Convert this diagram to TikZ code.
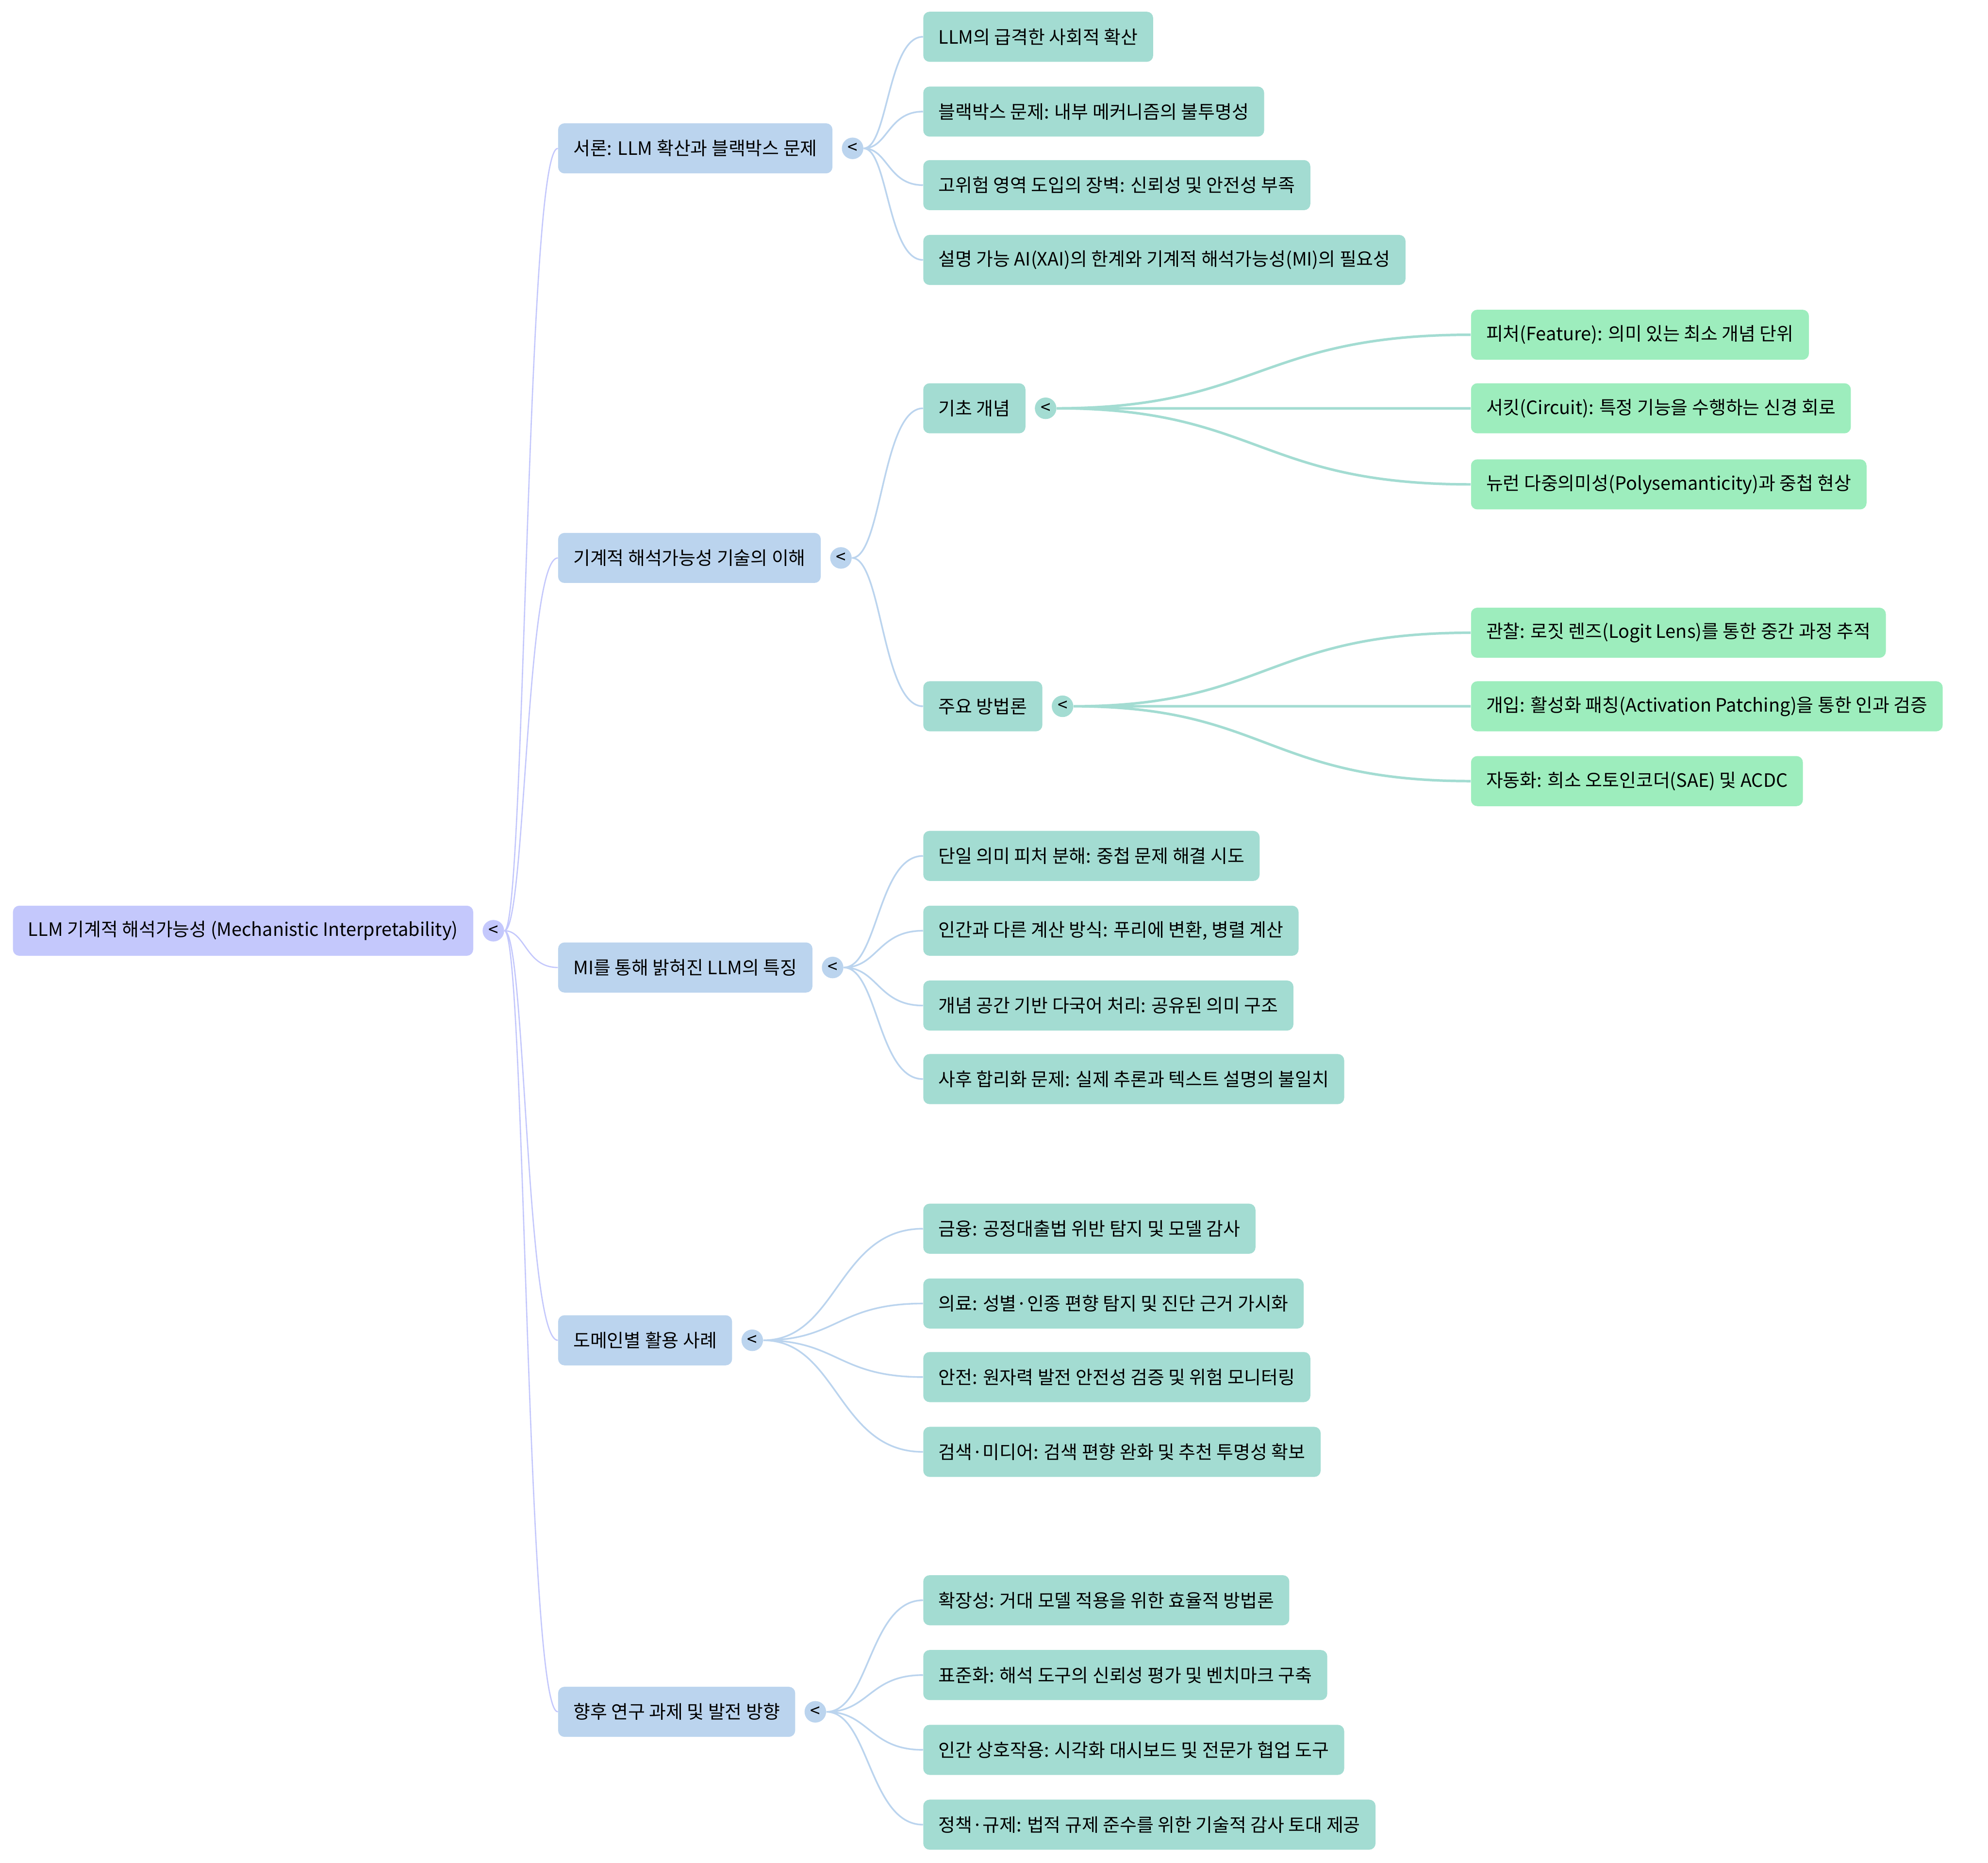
\documentclass[tikz,border=0pt]{standalone}
\usepackage{fontspec}
\setmainfont{Noto Sans CJK KR}
\usetikzlibrary{positioning,calc,backgrounds}
\definecolor{rootfill}{RGB}{196,200,252}
\definecolor{secfill}{RGB}{187,212,238}
\definecolor{subfill}{RGB}{163,220,210}
\definecolor{leaffill}{RGB}{157,237,189}
\tikzset{
  mm/.style       = {rounded corners=5pt, anchor=west, minimum height=39.5pt, inner xsep=12pt, inner ysep=3pt, font=\fontsize{14.5pt}{17.5pt}\selectfont},
  rootbox/.style  = {mm, fill=rootfill},
  secbox/.style   = {mm, fill=secfill},
  subbox/.style   = {mm, fill=subfill},
  leafbox/.style  = {mm, fill=leaffill},
  fold/.style     = {circle, inner sep=0pt, minimum size=17pt, font=\fontsize{14pt}{17pt}\selectfont},
  branch/.style   = {to path={let \p1=(\tikztostart), \p2=(\tikztotarget) in
                      .. controls ({(\x1+\x2)/2},\y1) and ({(\x1+\x2)/2},\y2) .. (\tikztotarget)}},
  rootlink/.style = {branch, draw=rootfill, line width=1pt},
  seclink/.style  = {branch, draw=secfill, line width=1.3pt},
  sublink/.style  = {branch, draw=subfill, line width=2pt},
}

\begin{document}
\begin{tikzpicture}[x=1pt, y=-1pt]
  \useasboundingbox (0,0) rectangle (1568,1469);

  % root
  \node[rootbox] (root) at (10,734) {LLM 기계적 해석가능성 (Mechanistic Interpretability)};
  \node[fold, fill=rootfill, right=7pt of root] (rootfold) {<};

  % sections
  \node[secbox] (intro)    at (440,117)  {서론: LLM 확산과 블랙박스 문제};
  \node[secbox] (techniq)  at (440,440)  {기계적 해석가능성 기술의 이해};
  \node[secbox] (findings) at (440,763)  {MI를 통해 밝혀진 LLM의 특징};
  \node[secbox] (usecase)  at (440,1057) {도메인별 활용 사례};
  \node[secbox] (outlook)  at (440,1350) {향후 연구 과제 및 발전 방향};
  \node[fold, fill=secfill, right=7pt of intro]    (introfold)    {<};
  \node[fold, fill=secfill, right=7pt of techniq]  (techniqfold)  {<};
  \node[fold, fill=secfill, right=7pt of findings] (findingsfold) {<};
  \node[fold, fill=secfill, right=7pt of usecase]  (usecasefold)  {<};
  \node[fold, fill=secfill, right=7pt of outlook]  (outlookfold)  {<};

  % intro
  \node[subbox] (spread)   at (728,29)  {LLM의 급격한 사회적 확산};
  \node[subbox] (blackbox) at (728,88)  {블랙박스 문제: 내부 메커니즘의 불투명성};
  \node[subbox] (barrier)  at (728,146) {고위험 영역 도입의 장벽: 신뢰성 및 안전성 부족};
  \node[subbox] (xai)      at (728,205) {설명 가능 AI(XAI)의 한계와 기계적 해석가능성(MI)의 필요성};

  % technique
  \node[subbox] (basics)  at (728,322) {기초 개념};
  \node[subbox] (methods) at (728,557) {주요 방법론};
  \node[fold, fill=subfill, right=7pt of basics]  (basicsfold)  {<};
  \node[fold, fill=subfill, right=7pt of methods] (methodsfold) {<};
  \node[leafbox] (feature)   at (1160,264) {피처(Feature): 의미 있는 최소 개념 단위};
  \node[leafbox] (circuit)   at (1160,322) {서킷(Circuit): 특정 기능을 수행하는 신경 회로};
  \node[leafbox] (polysem)   at (1160,382) {뉴런 다중의미성(Polysemanticity)과 중첩 현상};
  \node[leafbox] (observe)   at (1160,499) {관찰: 로짓 렌즈(Logit Lens)를 통한 중간 과정 추적};
  \node[leafbox] (intervene) at (1160,557) {개입: 활성화 패칭(Activation Patching)을 통한 인과 검증};
  \node[leafbox] (automate)  at (1160,616) {자동화: 희소 오토인코더(SAE) 및 ACDC};

  % findings
  \node[subbox] (monosem)   at (728,675) {단일 의미 피처 분해: 중첩 문제 해결 시도};
  \node[subbox] (fourier)   at (728,734) {인간과 다른 계산 방식: 푸리에 변환, 병렬 계산};
  \node[subbox] (multiling) at (728,793) {개념 공간 기반 다국어 처리: 공유된 의미 구조};
  \node[subbox] (posthoc)   at (728,851) {사후 합리화 문제: 실제 추론과 텍스트 설명의 불일치};

  % use cases
  \node[subbox] (finance) at (728,969)  {금융: 공정대출법 위반 탐지 및 모델 감사};
  \node[subbox] (medical) at (728,1028) {의료: 성별·인종 편향 탐지 및 진단 근거 가시화};
  \node[subbox] (safety)  at (728,1086) {안전: 원자력 발전 안전성 검증 및 위험 모니터링};
  \node[subbox] (search)  at (728,1145) {검색·미디어: 검색 편향 완화 및 추천 투명성 확보};

  % outlook
  \node[subbox] (scaling)  at (728,1262) {확장성: 거대 모델 적용을 위한 효율적 방법론};
  \node[subbox] (standard) at (728,1321) {표준화: 해석 도구의 신뢰성 평가 및 벤치마크 구축};
  \node[subbox] (humanai)  at (728,1380) {인간 상호작용: 시각화 대시보드 및 전문가 협업 도구};
  \node[subbox] (policy)   at (728,1439) {정책·규제: 법적 규제 준수를 위한 기술적 감사 토대 제공};

  \begin{scope}[on background layer]
    \draw[rootlink] (rootfold) to (intro.west) (rootfold) to (techniq.west) (rootfold) to (findings.west)
                    (rootfold) to (usecase.west) (rootfold) to (outlook.west);
    \draw[seclink] (introfold) to (spread.west) (introfold) to (blackbox.west)
                   (introfold) to (barrier.west) (introfold) to (xai.west);
    \draw[seclink] (techniqfold) to (basics.west) (techniqfold) to (methods.west);
    \draw[seclink] (findingsfold) to (monosem.west) (findingsfold) to (fourier.west)
                   (findingsfold) to (multiling.west) (findingsfold) to (posthoc.west);
    \draw[seclink] (usecasefold) to (finance.west) (usecasefold) to (medical.west)
                   (usecasefold) to (safety.west) (usecasefold) to (search.west);
    \draw[seclink] (outlookfold) to (scaling.west) (outlookfold) to (standard.west)
                   (outlookfold) to (humanai.west) (outlookfold) to (policy.west);
    \draw[sublink] (basicsfold) to (feature.west) (basicsfold) to (circuit.west) (basicsfold) to (polysem.west);
    \draw[sublink] (methodsfold) to (observe.west) (methodsfold) to (intervene.west) (methodsfold) to (automate.west);
  \end{scope}
\end{tikzpicture}
\end{document}
